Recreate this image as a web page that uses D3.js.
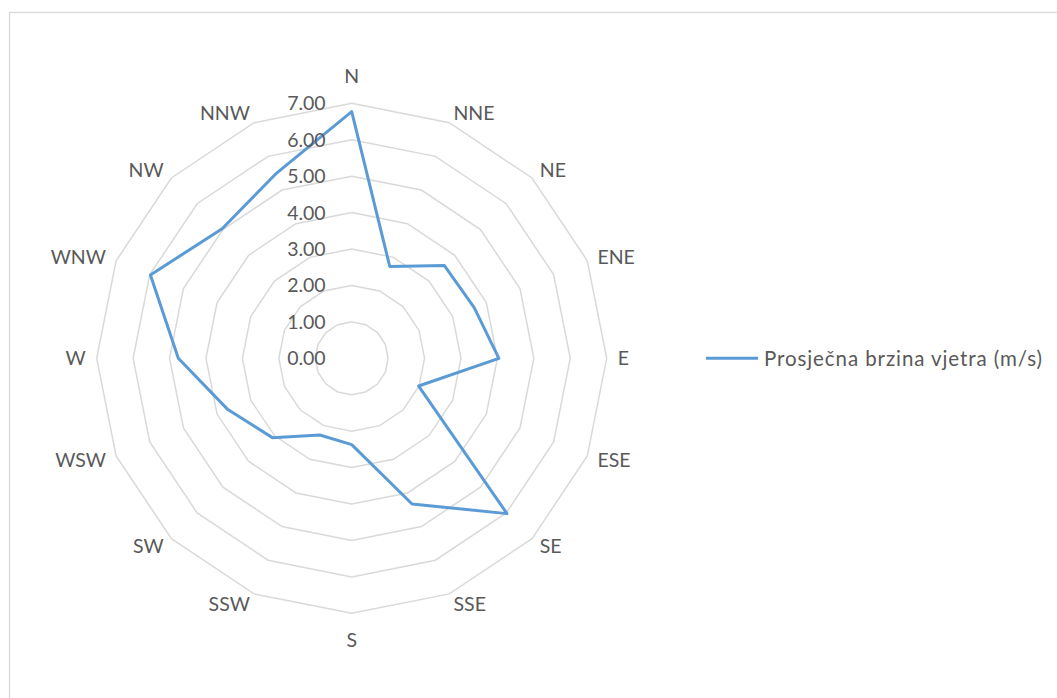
<!DOCTYPE html>
<html>
<head>
<meta charset="utf-8">
<script src="https://cdn.jsdelivr.net/npm/d3@7"></script>
<style>
  body { margin: 0; background: #fff; }
  text { font-family: Lato, "Open Sans", sans-serif; fill: #595959; }
</style>
</head>
<body>
<div id="chart"></div>
<script>
// wind directions and average speed (m/s)
const directions = ["N", "NNE", "NE", "ENE", "E", "ESE", "SE", "SSE",
    "S", "SSW", "SW", "WSW", "W", "WNW", "NW", "NNW"];
const speeds = [6.77, 2.73, 3.60, 3.64, 4.04, 1.99, 6.03, 4.33,
    2.37, 2.28, 3.08, 3.68, 4.76, 5.98, 5.03, 5.47];
const ringValues = [0, 1, 2, 3, 4, 5, 6, 7];
const seriesName = "Prosječna brzina vjetra (m/s)";

const width = 1057, height = 698;
const cx = 351.7, cy = 358.3, radius = 255;
const fontSize = 19.5;

const svg = d3.select("#chart").append("svg")
    .attr("width", width)
    .attr("height", height);

// chart area border (runs off the right and bottom)
svg.append("rect")
    .attr("x", 9.5)
    .attr("y", 12.5)
    .attr("width", width + 20)
    .attr("height", height + 20)
    .attr("fill", "#fff")
    .attr("stroke", "#d9d9d9")
    .attr("stroke-width", 1.3);

const g = svg.append("g")
    .attr("transform", "translate(" + cx + "," + cy + ")");

// scales
const r = d3.scaleLinear()
    .domain([0, d3.max(ringValues)])
    .range([0, radius]);

const angle = d3.scaleLinear()
    .domain([0, directions.length])
    .range([0, 2 * Math.PI]);

// grid polygons
const ringLine = d3.lineRadial()
    .angle((d, i) => angle(i))
    .radius(d => r(d))
    .curve(d3.curveLinearClosed);

g.selectAll(".ring")
    .data(ringValues.slice(1))
    .enter().append("path")
    .attr("class", "ring")
    .attr("d", v => ringLine(directions.map(() => v)))
    .attr("fill", "none")
    .attr("stroke", "#d9d9d9")
    .attr("stroke-width", 1.5);

// series
const seriesLine = d3.lineRadial()
    .angle((d, i) => angle(i))
    .radius(d => r(d))
    .curve(d3.curveLinearClosed);

g.append("path")
    .datum(speeds)
    .attr("d", seriesLine)
    .attr("fill", "none")
    .attr("stroke", "#5b9bd5")
    .attr("stroke-width", 3)
    .attr("stroke-linejoin", "round");

// value labels up the N spoke
g.selectAll(".tick-label")
    .data(ringValues)
    .enter().append("text")
    .attr("class", "tick-label")
    .attr("x", -26)
    .attr("y", d => -r(d))
    .attr("dy", "0.36em")
    .style("text-anchor", "end")
    .style("font-size", fontSize + "px")
    .text(d3.format(".2f"));

// direction labels
const pad = 11;
g.selectAll(".dir-label")
    .data(directions)
    .enter().append("text")
    .attr("class", "dir-label")
    .each(function(d, i) {
        const a = angle(i);
        const s = Math.sin(a), c = Math.cos(a);
        const x = (radius + pad) * s;
        let y = -(radius + pad) * c;
        let anchor = "middle";
        if (Math.abs(s) < 1e-6) {
            y += c > 0 ? -16 : 16;
        } else {
            anchor = s > 0 ? "start" : "end";
        }
        d3.select(this)
            .attr("x", x)
            .attr("y", y)
            .attr("dy", "0.36em")
            .style("text-anchor", anchor)
            .style("font-size", fontSize + "px")
            .text(d);
    });

// legend
const legend = svg.append("g")
    .attr("transform", "translate(706," + cy + ")");

legend.append("line")
    .attr("x1", 0)
    .attr("x2", 52)
    .attr("y1", 0)
    .attr("y2", 0)
    .attr("stroke", "#5b9bd5")
    .attr("stroke-width", 3);

legend.append("text")
    .attr("x", 58)
    .attr("y", 0)
    .attr("dy", "0.36em")
    .attr("textLength", 278)
    .attr("lengthAdjust", "spacing")
    .style("font-size", "20.5px")
    .text(seriesName);
</script>
</body>
</html>
